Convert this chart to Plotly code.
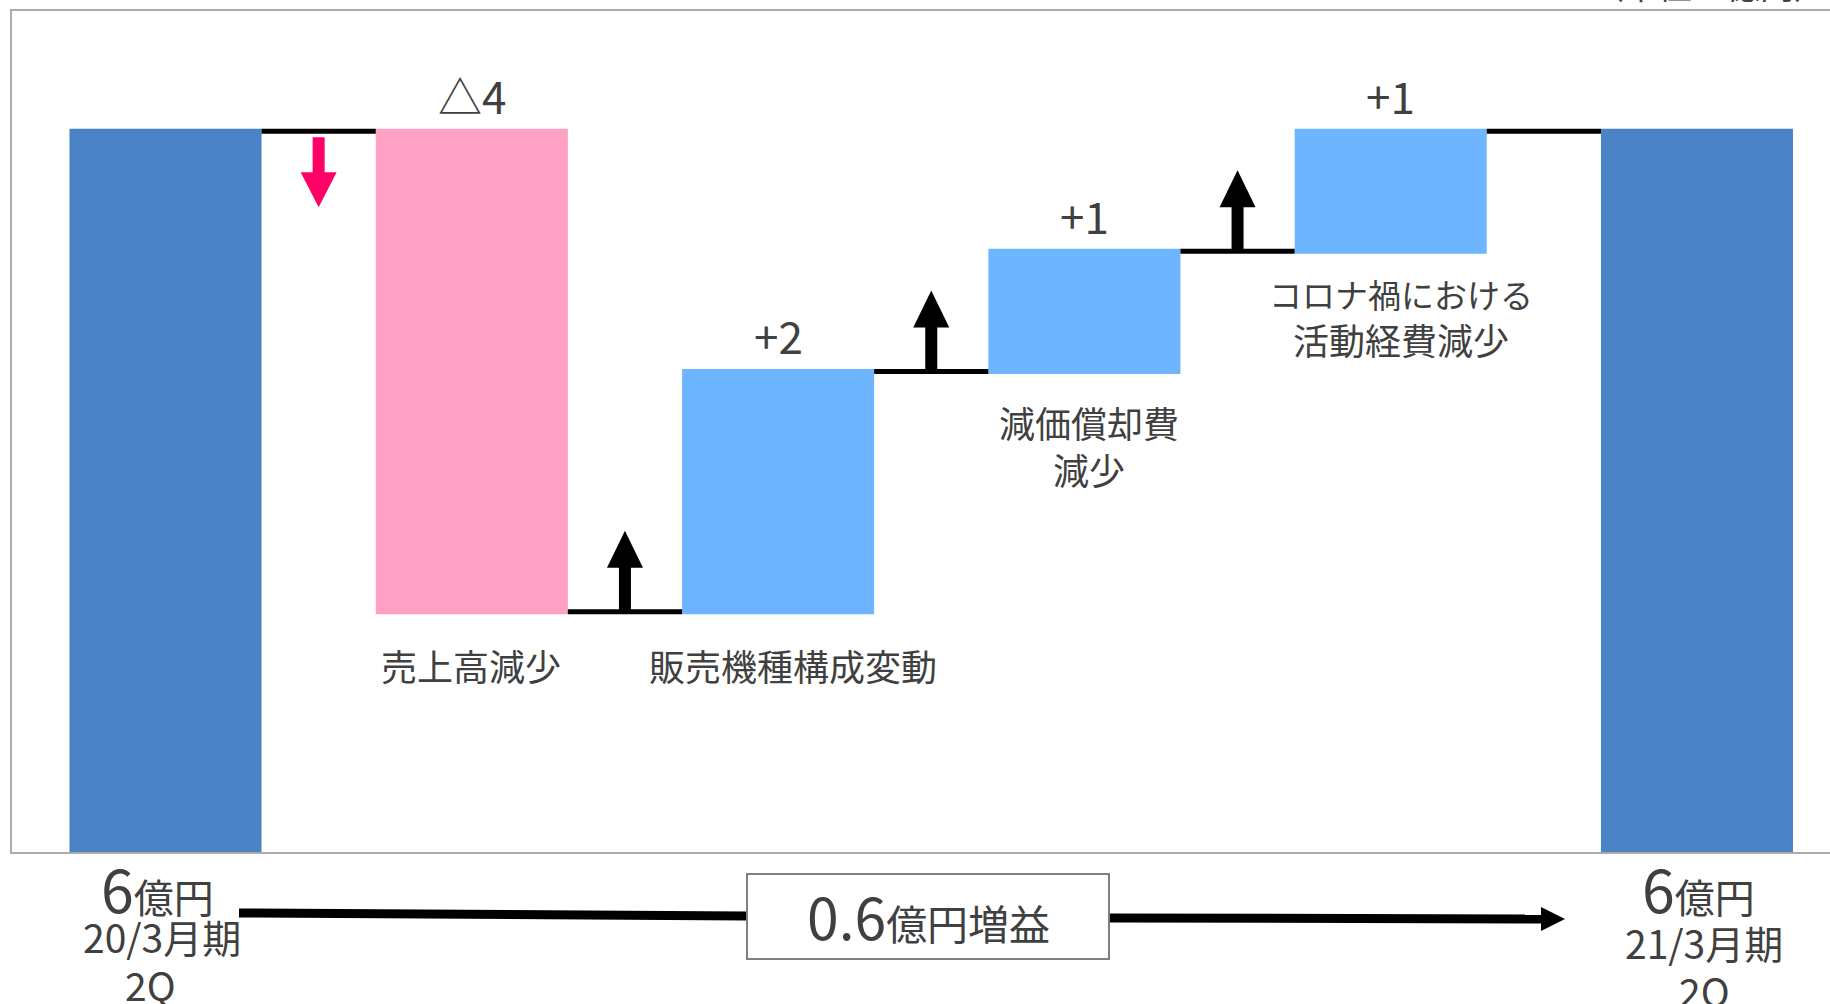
import plotly.graph_objects as go
import numpy as np

# ---------------- data ----------------
categories = ["20/3月期2Q", "売上高減少", "販売機種構成変動", "減価償却費減少",
              "コロナ禍における活動経費減少", "21/3月期2Q"]
measures = ["absolute", "relative", "relative", "relative", "relative", "total"]
values = [6, -4, 2, 1, 1, 0]
change_labels = ["", "△4", "+2", "+1", "+1", ""]
item_labels = ["", "売上高減少", "販売機種構成変動", "減価償却費<br>減少",
               '<span style="font-size:33px">コロナ禍における</span><br>活動経費減少', ""]
period_labels = ["20/3月期", "21/3月期"]
quarter_labels = ["2Q", "2Q"]
total_amounts = ["6", "6"]
profit_change = "0.6"
unit_text = "（単位：億円）"

# ---------------- geometry / style ----------------
W, H = 1830, 1004
ML, MR, MT, MB = 12, 0, 11, 152
PW, PH = W - ML - MR, H - MT - MB
YMAX = 7.0
CAT_PX = 306.3
X0 = -(165.5 - ML) / CAT_PX
X1 = X0 + PW / CAT_PX
FONT = "Noto Sans CJK JP"
TXT = "#404040"

C_TOTAL = "#4A84C6"
C_UP = "#6DB5FF"
C_DOWN = "#FFA0C4"
C_DOWN_ARROW = "#FF0066"


def px2x(px):
    return (px - ML) / PW


def py2y(py):
    return (H - MB - py) / PH


xs = list(range(len(categories)))
levels = []
run = 0
for m, v in zip(measures, values):
    if m == "absolute":
        run = v
    elif m == "relative":
        run += v
    levels.append(run)

fig = go.Figure()
fig.add_trace(go.Waterfall(
    x=xs, y=values, measure=measures,
    width=[0.627] * len(xs),
    increasing=dict(marker=dict(color=C_UP)),
    decreasing=dict(marker=dict(color=C_DOWN)),
    totals=dict(marker=dict(color=C_TOTAL)),
    connector=dict(line=dict(color="black", width=5), mode="between"),
    textinfo="none", hoverinfo="skip", showlegend=False,
))

annotations = []
shapes = []

# change labels above each step bar
for i in range(1, len(xs) - 1):
    top = max(levels[i - 1], levels[i])
    annotations.append(dict(x=xs[i], y=top, xref="x", yref="y", text=change_labels[i],
                            showarrow=False, yanchor="middle", yshift=36,
                            font=dict(family=FONT, size=44, color=TXT)))

# item labels below bars
item_offsets = {1: (-1, -53), 2: (15, -53), 3: (5, -74), 4: (10, -66)}
for i, (dx, dy) in item_offsets.items():
    bottom = min(levels[i - 1], levels[i])
    annotations.append(dict(x=xs[i], y=bottom, xref="x", yref="y", text=item_labels[i],
                            showarrow=False, yanchor="middle", xshift=dx, yshift=dy,
                            font=dict(family=FONT, size=36, color=TXT)))

# arrows in the gaps (pixel-sized block arrows anchored at the step level)
up_path = "M -6 0 L 6 0 L 6 44 L 18 44 L 0 81 L -18 44 L -6 44 Z"
down_path = "M -6 -6 L 6 -6 L 6 -41 L 18 -41 L 0 -76 L -18 -41 L -6 -41 Z"
for i in range(len(xs) - 2):
    step = values[i + 1]
    gx = xs[i] + 0.5
    lvl = levels[i]
    if step < 0:
        path, col = down_path, C_DOWN_ARROW
    else:
        path, col = up_path, "black"
    shapes.append(dict(type="path", xref="x", yref="y", xsizemode="pixel", ysizemode="pixel",
                       xanchor=gx, yanchor=lvl, path=path, fillcolor=col,
                       line=dict(width=0), layer="above"))

# bottom labels for the totals
amount_dx = [-8, 1]
for k, i in enumerate([0, len(xs) - 1]):
    annotations.append(dict(x=xs[i], y=0, xref="x", yref="y",
                            text=f'<span style="font-size:59px">{total_amounts[k]}</span>億円',
                            showarrow=False, yanchor="middle", xshift=amount_dx[k],
                            yshift=-(887 - 852),
                            font=dict(family=FONT, size=40, color=TXT)))
ptxt_y = [936, 942]
qtxt_y = [984, 990]
ptxt_dx = [-4, 7]
qtxt_dx = [-15, 7]
for k, i in enumerate([0, len(xs) - 1]):
    annotations.append(dict(x=xs[i], y=0, xref="x", yref="y", text=period_labels[k],
                            showarrow=False, yanchor="middle", xshift=ptxt_dx[k],
                            yshift=-(ptxt_y[k] - 852),
                            font=dict(family=FONT, size=39, color=TXT)))
    annotations.append(dict(x=xs[i], y=0, xref="x", yref="y", text=quarter_labels[k],
                            showarrow=False, yanchor="middle", xshift=qtxt_dx[k],
                            yshift=-(qtxt_y[k] - 852),
                            font=dict(family=FONT, size=39, color=TXT)))

# bottom arrow with the boxed result
shapes.append(dict(type="line", xref="paper", yref="paper",
                   x0=px2x(239), y0=py2y(913), x1=px2x(747), y1=py2y(916),
                   line=dict(color="black", width=9)))
shapes.append(dict(type="line", xref="paper", yref="paper",
                   x0=px2x(1109), y0=py2y(918), x1=px2x(1545), y1=py2y(919),
                   line=dict(color="black", width=9)))
shapes.append(dict(type="path", xref="paper", yref="paper",
                   path=(f"M {px2x(1541)} {py2y(907)} L {px2x(1565)} {py2y(919)} "
                         f"L {px2x(1541)} {py2y(931)} Z"),
                   fillcolor="black", line=dict(width=0)))
shapes.append(dict(type="rect", xref="paper", yref="paper",
                   x0=px2x(747), y0=py2y(874), x1=px2x(1109), y1=py2y(959),
                   fillcolor="white", line=dict(color="#808080", width=2)))
annotations.append(dict(x=px2x(928), y=py2y(915), xref="paper", yref="paper",
                        text=f'<span style="font-size:57px">{profit_change}</span>億円増益',
                        showarrow=False, yanchor="middle",
                        font=dict(family=FONT, size=41, color=TXT)))

# unit label (cut at the top of the page)
annotations.append(dict(x=px2x(1829), y=py2y(10), xref="paper", yref="paper",
                        text=unit_text, showarrow=False, xanchor="right", yanchor="bottom",
                        borderpad=0, font=dict(family=FONT, size=34, color=TXT)))

fig.update_layout(
    width=W, height=H,
    margin=dict(l=ML, r=MR, t=MT, b=MB, pad=0),
    paper_bgcolor="white", plot_bgcolor="white",
    xaxis=dict(range=[X0, X1], showticklabels=False, showgrid=False, zeroline=False,
               showline=True, mirror=True, linecolor="#ABABAB", linewidth=2, ticks=""),
    yaxis=dict(range=[0, YMAX], showticklabels=False, showgrid=False, zeroline=False,
               showline=True, mirror=False, linecolor="#ABABAB", linewidth=2, ticks=""),
    shapes=shapes, annotations=annotations,
)

fig.write_html("out.html")
